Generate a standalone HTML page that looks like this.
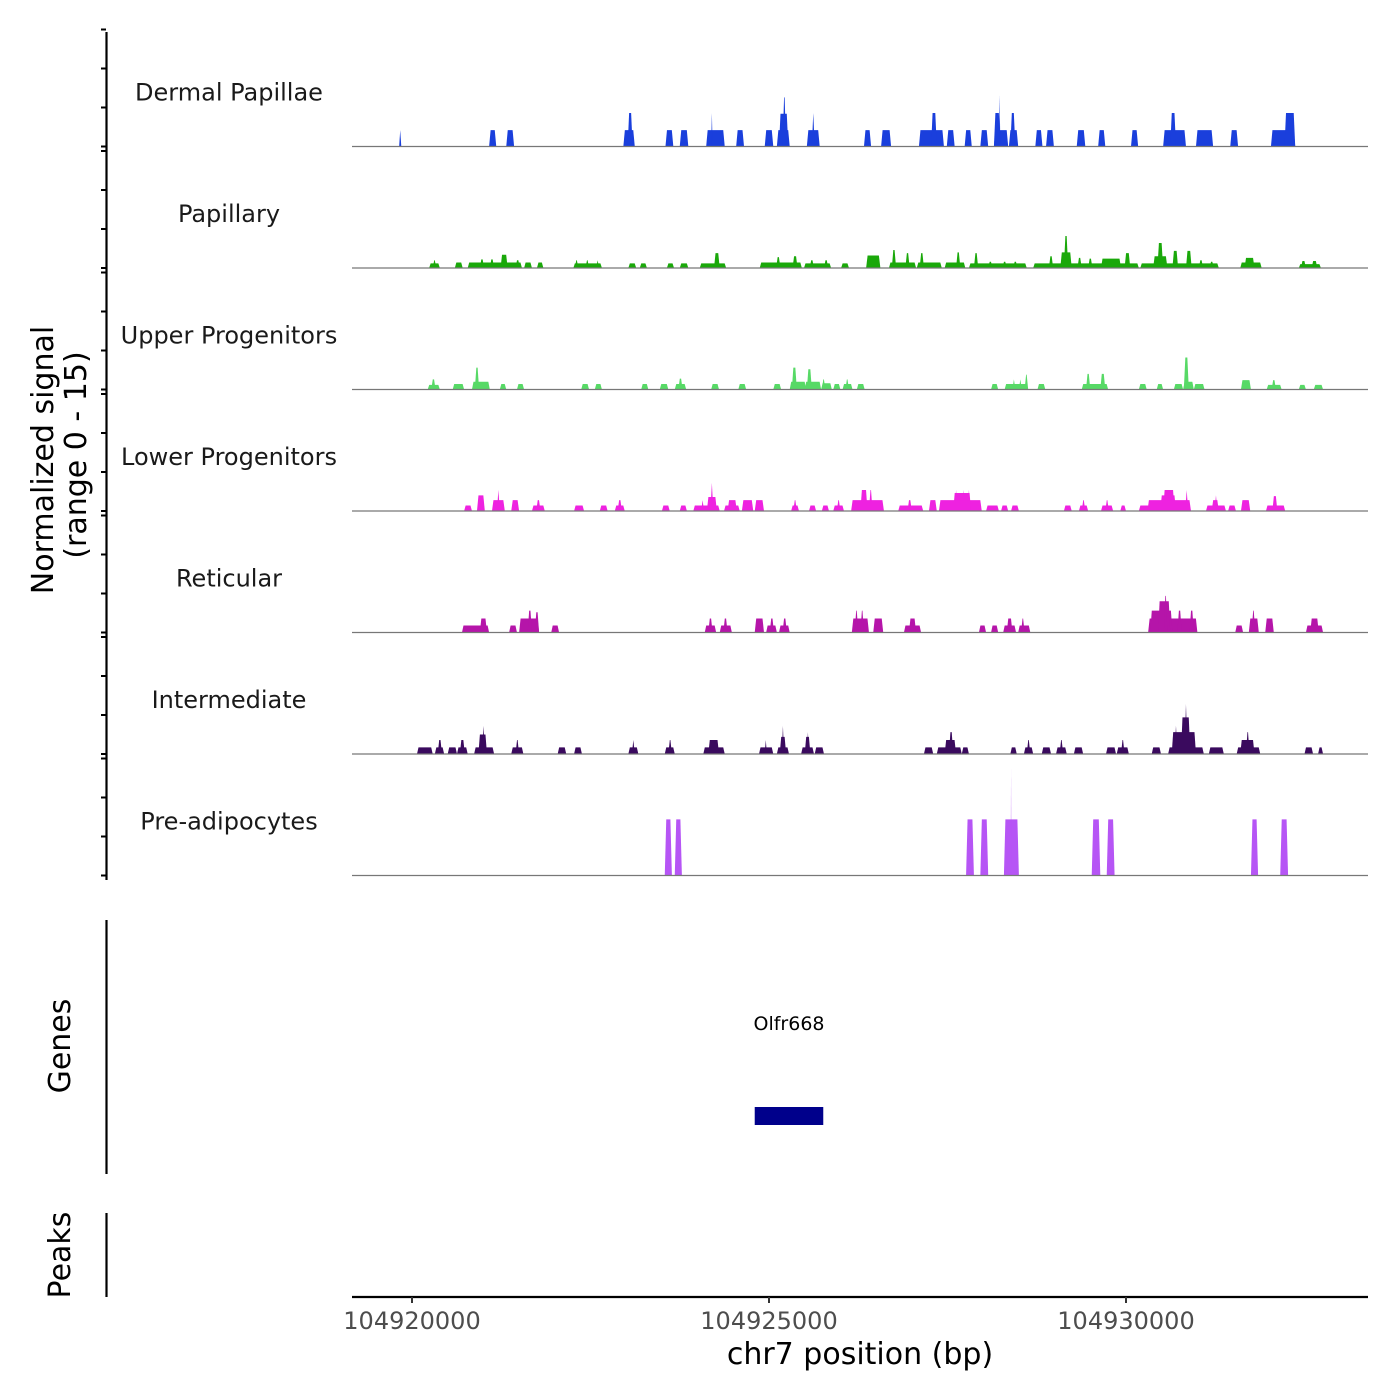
<!DOCTYPE html>
<html><head><meta charset="utf-8"><style>
html,body{margin:0;padding:0;background:#fff;}
svg{display:block;font-family:"DejaVu Sans","Liberation Sans",sans-serif;}
</style></head><body>
<svg id="chart" width="1400" height="1400" viewBox="0 0 1400 1400">
<g id="tracks"></g>
<g id="axes"></g>
<text x="0" y="0" transform="translate(53,460) rotate(-90)" text-anchor="middle" font-size="30" fill="#000">Normalized signal</text>
<text x="0" y="0" transform="translate(86,455) rotate(-90)" text-anchor="middle" font-size="30" fill="#000">(range 0 - 15)</text>
<text x="0" y="0" transform="translate(70,1046) rotate(-90)" text-anchor="middle" font-size="30" fill="#000">Genes</text>
<text x="0" y="0" transform="translate(70,1255) rotate(-90)" text-anchor="middle" font-size="30" fill="#000">Peaks</text>
<text x="789" y="1030" text-anchor="middle" font-size="19" fill="#000">Olfr668</text>
<text x="860" y="1364" text-anchor="middle" font-size="30" fill="#000">chr7 position (bp)</text>
</svg>
<script>
// positions in kb relative to chr7:104,920,000; heights in normalized signal units
const trackNames = ["Dermal Papillae","Papillary","Upper Progenitors","Lower Progenitors","Reticular","Intermediate","Pre-adipocytes"];
const trackColors = ["#1a3fdc","#1aa80a","#57d966","#ee22e0","#b515a9","#3a0a5e","#b655f5"];
const xTickValues = [104920000,104925000,104930000];
const xTickLabels = ["104920000","104925000","104930000"];
const geneStart = 4.80, geneEnd = 5.76;
const dermal = [[-0.18,-0.15,2.1],[1.08,1.18,2.1],[1.32,1.43,2.1],[2.96,3.12,2.1],[3.02,3.09,4.3],[3.55,3.66,2.1],[3.75,3.87,2.1],[4.12,4.38,2.1],[4.19,4.21,4.3],[4.54,4.65,2.1],[4.94,5.06,2.1],[5.11,5.29,2.1],[5.14,5.27,4.2],[5.19,5.24,6.3],[5.53,5.71,2.1],[5.6,5.64,4.3],[6.33,6.43,2.1],[6.57,6.71,2.1],[7.1,7.45,2.1],[7.27,7.35,4.3],[7.49,7.6,2.1],[7.74,7.84,2.1],[7.96,8.07,2.1],[8.15,8.35,2.1],[8.15,8.24,4.3],[8.22,8.24,6.6],[8.36,8.49,2.1],[8.38,8.45,4.3],[8.73,8.83,2.1],[8.88,8.99,2.1],[9.31,9.43,2.1],[9.61,9.71,2.1],[10.07,10.17,2.1],[10.52,10.84,2.1],[10.62,10.7,4.3],[10.98,11.22,2.1],[11.46,11.57,2.1],[12.03,12.37,2.1],[12.22,12.37,4.3]];
const papillary = [[0.24,0.39,0.6],[0.29,0.34,1.0],[0.6,0.71,0.7],[0.78,1.54,0.7],[0.95,1.01,1.1],[1.09,1.15,1.1],[1.24,1.34,1.7],[1.45,1.51,1.0],[1.57,1.68,0.7],[1.75,1.84,0.7],[2.26,2.66,0.6],[2.28,2.33,1.0],[2.43,2.48,1.0],[2.58,2.62,1.0],[3.03,3.14,0.6],[3.19,3.29,0.6],[3.57,3.67,0.6],[3.75,3.87,0.6],[4.03,4.4,0.6],[4.23,4.31,1.9],[4.87,5.46,0.7],[5.1,5.16,1.4],[5.33,5.4,1.5],[5.49,5.87,0.6],[5.57,5.63,1.0],[5.77,5.83,1.0],[6.01,6.12,0.6],[6.36,6.56,1.6],[6.68,7.06,0.7],[6.72,6.78,2.3],[6.91,6.97,1.9],[7.07,7.42,0.7],[7.11,7.17,1.9],[7.46,7.75,0.7],[7.62,7.68,2.0],[7.8,8.61,0.6],[7.87,7.93,1.9],[8.07,8.13,0.8],[8.27,8.33,0.8],[8.42,8.48,0.8],[8.7,10.18,0.6],[8.92,8.98,1.5],[9.08,9.24,2.0],[9.13,9.19,4.1],[9.32,9.38,1.3],[9.47,9.53,1.2],[9.65,9.93,1.2],[9.98,10.06,1.9],[10.2,11.3,0.6],[10.38,10.58,1.5],[10.44,10.52,3.2],[10.65,10.73,2.2],[10.84,10.92,2.2],[11.02,11.08,1.0],[11.17,11.23,0.8],[11.6,11.9,0.7],[11.66,11.8,1.3],[12.42,12.73,0.5],[12.45,12.52,0.9],[12.6,12.68,0.9]];
const upper = [[0.22,0.39,0.6],[0.27,0.33,1.3],[0.57,0.73,0.7],[0.84,1.09,1.0],[0.88,0.94,2.8],[1.23,1.32,0.7],[1.47,1.57,0.7],[2.37,2.48,0.7],[2.56,2.66,0.7],[3.21,3.31,0.7],[3.47,3.59,0.7],[3.68,3.84,0.7],[3.73,3.79,1.4],[4.19,4.3,0.7],[4.57,4.68,0.7],[5.06,5.17,0.7],[5.29,5.52,1.0],[5.32,5.39,2.8],[5.5,5.73,1.0],[5.53,5.6,2.6],[5.73,5.88,0.8],[5.74,5.79,1.3],[5.9,6.0,0.7],[6.03,6.17,0.7],[6.07,6.12,1.3],[6.23,6.34,0.7],[8.11,8.21,0.7],[8.3,8.63,0.7],[8.41,8.45,1.3],[8.5,8.54,1.3],[8.58,8.63,1.9],[8.76,8.87,0.7],[9.38,9.75,0.7],[9.44,9.5,2.0],[9.64,9.71,2.0],[10.18,10.29,0.7],[10.43,10.52,0.7],[10.67,10.8,0.7],[10.8,10.95,1.0],[10.81,10.88,4.1],[10.95,11.1,0.7],[11.61,11.75,1.2],[11.97,12.18,0.6],[12.04,12.1,1.2],[12.42,12.52,0.6],[12.63,12.76,0.6]];
const lower = [[0.73,0.84,0.7],[0.91,1.02,2.0],[1.12,1.3,1.4],[1.19,1.23,2.7],[1.39,1.5,1.4],[1.68,1.86,0.7],[1.74,1.8,1.4],[2.27,2.41,0.7],[2.63,2.74,0.7],[2.84,2.98,0.7],[2.88,2.94,1.4],[3.5,3.61,0.7],[3.75,3.85,0.7],[3.94,4.31,0.7],[4.05,4.09,1.4],[4.13,4.27,1.8],[4.18,4.22,3.6],[4.37,4.59,0.7],[4.42,4.55,1.4],[4.62,4.78,1.4],[4.8,4.93,1.4],[5.31,5.42,0.7],[5.34,5.39,1.4],[5.56,5.66,0.7],[5.74,5.84,0.7],[5.9,6.05,0.7],[5.95,6.0,1.4],[6.15,6.61,1.4],[6.28,6.38,2.7],[6.4,6.45,2.7],[6.81,7.16,0.7],[6.94,7.0,1.4],[7.24,7.35,1.4],[7.38,7.98,1.4],[7.58,7.83,2.3],[7.6,7.64,2.7],[7.7,7.74,2.7],[7.78,7.82,2.7],[8.04,8.22,0.7],[8.25,8.35,0.7],[8.39,8.5,0.7],[9.13,9.24,0.7],[9.34,9.47,0.7],[9.38,9.43,1.4],[9.65,9.82,0.7],[9.71,9.76,1.4],[9.92,10.0,0.7],[10.18,10.91,0.7],[10.3,10.91,1.4],[10.48,10.7,2.0],[10.52,10.68,2.7],[10.83,10.87,2.7],[11.12,11.4,0.7],[11.2,11.3,1.4],[11.24,11.28,2.0],[11.43,11.54,0.7],[11.61,11.74,1.4],[11.96,12.23,0.7],[12.05,12.12,1.9]];
const reticular = [[0.7,1.08,0.9],[0.95,1.05,1.8],[1.36,1.47,0.9],[1.5,1.78,1.8],[1.62,1.68,2.8],[1.72,1.78,2.6],[1.95,2.06,0.9],[4.1,4.26,0.9],[4.15,4.21,1.8],[4.31,4.48,0.9],[4.36,4.42,1.8],[4.8,4.93,1.8],[4.96,5.11,0.9],[5.01,5.07,1.8],[5.14,5.29,0.9],[5.19,5.25,1.8],[6.16,6.4,1.8],[6.2,6.25,2.8],[6.28,6.33,2.8],[6.46,6.6,1.8],[6.89,7.13,0.9],[6.96,7.06,1.8],[7.94,8.04,0.9],[8.11,8.21,0.9],[8.28,8.46,0.9],[8.33,8.41,1.8],[8.49,8.66,0.9],[8.53,8.58,1.8],[10.31,11.0,1.8],[10.34,10.65,2.8],[10.45,10.62,4.0],[10.53,10.58,4.7],[10.72,10.78,2.8],[10.89,10.95,2.8],[11.53,11.64,0.9],[11.72,11.86,1.8],[11.76,11.81,2.8],[11.95,12.07,1.8],[12.52,12.76,0.9],[12.58,12.7,1.8]];
const intermediate = [[0.07,0.29,0.85],[0.32,0.45,0.85],[0.36,0.42,1.8],[0.5,0.63,0.85],[0.63,0.78,0.85],[0.67,0.74,1.8],[0.87,1.15,0.85],[0.93,1.05,2.5],[0.98,1.02,3.6],[1.39,1.56,0.85],[1.45,1.5,1.8],[2.04,2.16,0.85],[2.27,2.38,0.85],[3.03,3.17,0.85],[3.08,3.12,1.8],[3.54,3.68,0.85],[3.59,3.64,1.8],[4.08,4.38,0.85],[4.15,4.3,1.8],[4.86,5.06,0.85],[4.94,4.97,1.8],[5.11,5.28,0.85],[5.15,5.24,2.2],[5.18,5.21,3.6],[5.45,5.63,0.85],[5.5,5.58,2.2],[5.53,5.56,2.8],[5.64,5.77,0.85],[7.17,7.3,0.85],[7.35,7.7,0.85],[7.46,7.62,1.8],[7.52,7.58,2.8],[7.7,7.8,0.85],[8.38,8.47,0.85],[8.57,8.7,0.85],[8.61,8.66,1.8],[8.82,8.95,0.85],[9.02,9.17,0.85],[9.07,9.12,1.8],[9.27,9.4,0.85],[9.72,9.86,0.85],[9.87,10.04,0.85],[9.93,9.98,1.8],[10.36,10.49,0.85],[10.59,11.09,0.85],[10.64,10.98,2.8],[10.68,10.72,3.6],[10.77,10.9,4.7],[10.82,10.86,6.4],[11.16,11.37,0.85],[11.55,11.88,0.85],[11.6,11.8,1.8],[11.68,11.73,2.8],[12.5,12.62,0.85],[12.69,12.76,0.85]];
const preadipocytes = [[3.54,3.64,7.2],[3.68,3.78,7.2],[7.76,7.87,7.2],[7.96,8.07,7.2],[8.29,8.5,7.2],[8.385,8.395,13.7],[9.52,9.64,7.2],[9.73,9.84,7.2],[11.75,11.85,7.2],[12.16,12.27,7.2]];
const trackData = [dermal,papillary,upper,lower,reticular,intermediate,preadipocytes];

const NS = "http://www.w3.org/2000/svg";
const X0 = 412, PX_PER_KB = 71.4;
function xKb(kb){ return X0 + kb*PX_PER_KB; }
function xBp(bp){ return xKb((bp-104920000)/1000); }
const PLOT_L = 352, PLOT_R = 1368;
const BASE0 = 146.5, TRACK_H = 121.5, UNIT = 7.8;
function yVal(track, v){ return BASE0 + track*TRACK_H - v*UNIT; }
function mk(tag, attrs, parent){ const e=document.createElementNS(NS,tag); for(const k in attrs) e.setAttribute(k,attrs[k]); parent.appendChild(e); return e; }

const tracksG = document.getElementById('tracks');
const axesG = document.getElementById('axes');

trackData.forEach((arr, t) => {
  const g = mk('g', {}, tracksG);
  
  
  const base = yVal(t, 0);
  const lab = mk('text', {x:229, y: base-46, 'text-anchor':'middle', 'font-size':24, fill:'#1a1a1a'}, g);
  lab.textContent = trackNames[t];
  
  
  arr.forEach(p => {
    const x1 = xKb(p[0]), x2 = xKb(p[1]), y = yVal(t, p[2]);
    const d = Math.min(1.5, (x2-x1)/2);
    const poly = mk('polygon', {points: `${x1},${base} ${x1+d},${y} ${x2-d},${y} ${x2},${base}`, fill: trackColors[t]}, g);
    
    
  });
  const bl = mk('line', {x1:PLOT_L, x2:PLOT_R, y1:base, y2:base, stroke:'#777', 'stroke-width':1.2}, g);
  
  
  [0,5,10,15].forEach(v => {
    const ty = base - v*UNIT;
    const tk = mk('line', {x1:101, x2:106, y1:ty, y2:ty, stroke:'#000', 'stroke-width':2}, axesG);
    
    
  });
});

const yax = mk('line', {x1:106.5, x2:106.5, y1:32, y2:880, stroke:'#000', 'stroke-width':2.2}, axesG);


const gax = mk('line', {x1:106.5, x2:106.5, y1:920, y2:1174, stroke:'#000', 'stroke-width':2.2}, axesG);


const pax = mk('line', {x1:106.5, x2:106.5, y1:1213, y2:1297, stroke:'#000', 'stroke-width':2.2}, axesG);



const gene = mk('rect', {x:xKb(geneStart), y:1107, width:xKb(geneEnd)-xKb(geneStart), height:18, fill:'#00008b'}, axesG);



const xax = mk('line', {x1:PLOT_L, x2:PLOT_R, y1:1297, y2:1297, stroke:'#000', 'stroke-width':2.2}, axesG);


xTickValues.forEach((v,i) => {
  const x = xBp(v);
  const tk = mk('line', {x1:x, x2:x, y1:1297, y2:1303, stroke:'#333', 'stroke-width':2}, axesG);
  
  
  const tl = mk('text', {x:x, y:1329, 'text-anchor':'middle', 'font-size':24, fill:'#4d4d4d'}, axesG);
  tl.textContent = xTickLabels[i];
  
  
});
</script>
</body></html>
